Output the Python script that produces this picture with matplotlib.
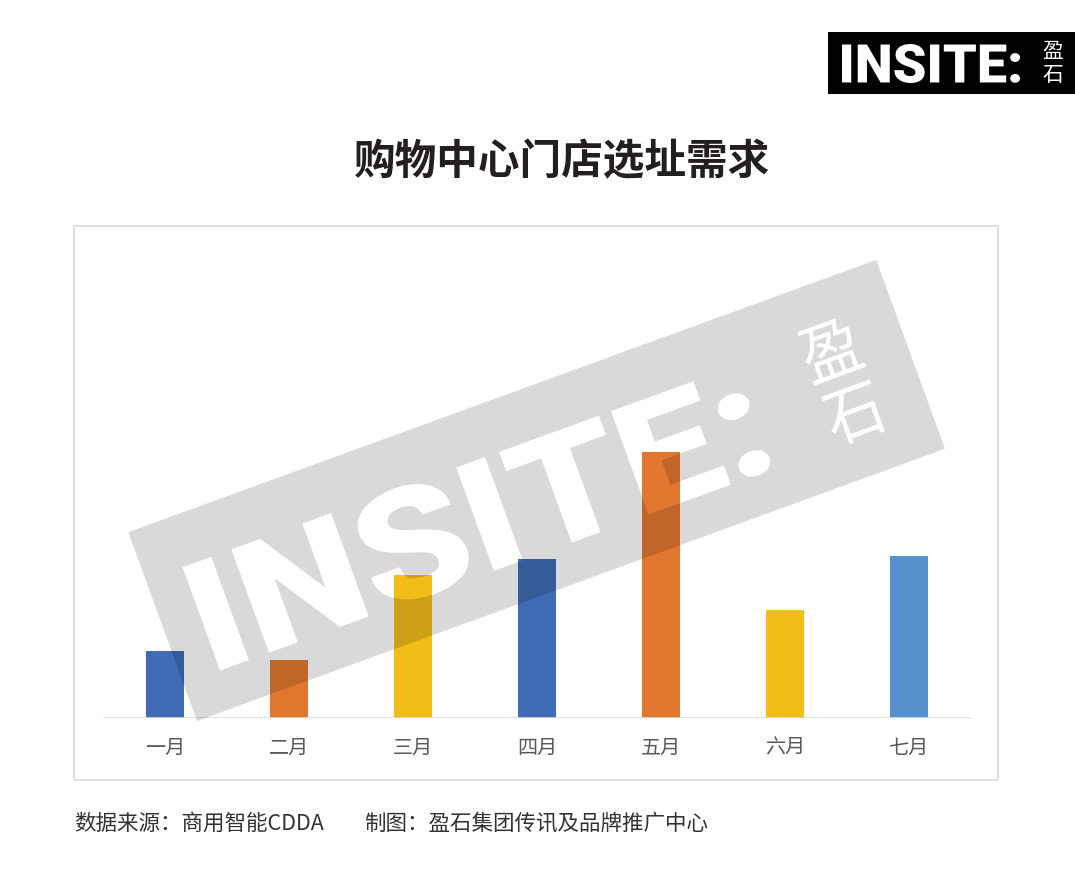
import numpy as np
import matplotlib
matplotlib.use('Agg')
import matplotlib.pyplot as plt
from matplotlib.path import Path
from matplotlib.patches import PathPatch, Rectangle
from matplotlib.textpath import TextPath
from matplotlib.font_manager import FontProperties
from matplotlib.transforms import Affine2D

plt.rcParams['font.family'] = ['Noto Sans CJK SC', 'DejaVu Sans']

# 数据
months = ['一月', '二月', '三月', '四月', '五月', '六月', '七月']
demand = [67, 58, 143, 159, 266, 108, 162]
bar_colors = ['#3F6CB4', '#E2782F', '#F1BD19', '#3F6CB4', '#E2782F', '#F1BD19', '#5591CB']

title = '购物中心门店选址需求'
source = '数据来源：商用智能CDDA'
credit = '制图：盈石集团传讯及品牌推广中心'
brand = 'INSITE:'
brand_cn = ['盈', '石']

W, H = 1075, 876
fig = plt.figure(figsize=(W / 100, H / 100), dpi=100)
fig.patch.set_facecolor('white')


def px(x0, y0, x1, y1):
    return [x0 / W, 1 - y1 / H, (x1 - x0) / W, (y1 - y0) / H]


# 柱状图
ax = fig.add_axes(px(103, 250, 971, 718))
x = np.arange(len(months))
ax.bar(x, demand, width=0.31, color=bar_colors, zorder=2)
ax.set_xlim(-0.5, len(months) - 0.5)
ax.set_ylim(0, 468)
ax.axhline(0, color='#D9D9D9', lw=1.2, zorder=3)
ax.set_xticks(x, months)
ax.tick_params(axis='x', length=0, pad=14, labelsize=14.5, labelcolor='#595959')
for lbl in ax.get_xticklabels():
    lbl.set_fontweight('light')
ax.set_yticks([])
for s in ax.spines.values():
    s.set_visible(False)
ax.patch.set_alpha(0)

# 覆盖层（像素坐标，y向下）
ov = fig.add_axes([0, 0, 1, 1], zorder=5)
ov.set_xlim(0, W)
ov.set_ylim(H, 0)
ov.axis('off')

ov.add_patch(Rectangle((74, 226), 924, 554, fill=False, ec='#DCDCDC', lw=1.3))

fig.text(562 / W, 1 - 162 / H, title, ha='center', va='center',
         fontsize=30, fontweight='bold', color='#231F20')
fig.text(74 / W, 1 - 824 / H, source, va='center', fontsize=15.5, color='#333333')
fig.text(364 / W, 1 - 824 / H, credit, va='center', fontsize=15.5, color='#333333')

heavy_font = FontProperties(family=['Roboto', 'Inter', 'Lato', 'DejaVu Sans'], weight=900)
cjk_light = FontProperties(family=['Noto Sans CJK SC'], weight='light')


def signed_area(poly):
    xs, ys = poly[:, 0], poly[:, 1]
    return 0.5 * np.sum(xs * np.roll(ys, -1) - np.roll(xs, -1) * ys)


def fit_polys(text, prop, box, outer_sign):
    # 文字轮廓 -> 多边形，缩放到指定框内，外轮廓方向统一为 outer_sign
    tp = TextPath((0, 0), text, size=100, prop=prop)
    polys = [p for p in tp.to_polygons() if len(p) > 2]
    allv = np.vstack(polys)
    xmin, ymin = allv.min(0)
    xmax, ymax = allv.max(0)
    u0, v0, u1, v1 = box
    sx = (u1 - u0) / (xmax - xmin)
    sy = (v1 - v0) / (ymax - ymin)
    polys = [np.column_stack([(p[:, 0] - xmin) * sx + u0, (p[:, 1] - ymin) * sy + v0])
             for p in polys]
    ref = max(polys, key=lambda p: abs(signed_area(p)))
    if np.sign(signed_area(ref)) != outer_sign:
        polys = [p[::-1] for p in polys]
    return polys


def polys_to_path(polys):
    verts, codes = [], []
    for p in polys:
        verts.extend(p.tolist())
        verts.append(p[0].tolist())
        codes.extend([Path.MOVETO] + [Path.LINETO] * (len(p) - 1) + [Path.CLOSEPOLY])
    return Path(np.array(verts), codes)


# 右上角标志
ov.add_patch(Rectangle((828, 32), 250, 62, color='black', lw=0))
logo = fit_polys(brand, heavy_font, (842, -83, 1020, -44), 1)
ov.add_patch(PathPatch(Affine2D().scale(1, -1).transform_path(polys_to_path(logo)),
                       fc='white', lw=0))
for ch, yc in zip(brand_cn, [51, 75]):
    ov.text(1053, yc, ch, ha='center', va='center', fontsize=15,
            color='white', fontweight='light')

# 水印（旋转的半透明矩形，文字镂空）
ang = np.deg2rad(20)
c, s = np.cos(ang), np.sin(ang)
frame = Affine2D(np.array([[c, -s, 197], [-s, -c, 721], [0, 0, 1]]))
rw, rh = 796, 201

rect = np.array([[0, 0], [rw, 0], [rw, rh], [0, rh]], float)  # 逆时针
holes = (fit_polys(brand, heavy_font, (39, 38, 628, 151), -1)
         + fit_polys(brand_cn[0], cjk_light, (694, 104, 750, 160), -1)
         + fit_polys(brand_cn[1], cjk_light, (695, 37, 749, 91), -1))

wm = polys_to_path([rect] + holes)
ov.add_patch(PathPatch(frame.transform_path(wm), fc='black', alpha=0.15, lw=0))

fig.savefig('out.png', dpi=100, facecolor='white')
